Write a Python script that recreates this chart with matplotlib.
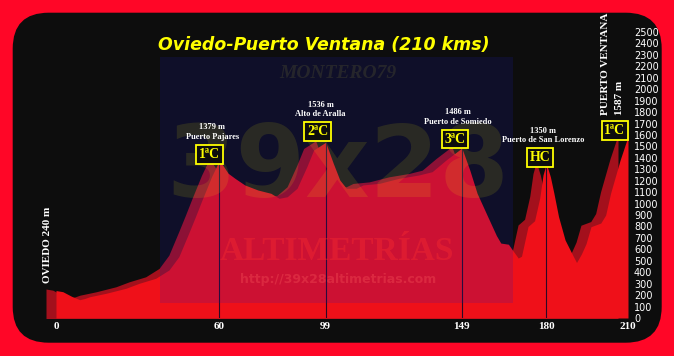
import matplotlib
matplotlib.use("Agg")
import matplotlib.pyplot as plt
from matplotlib.patches import FancyBboxPatch, Rectangle
from matplotlib.transforms import Affine2D, ScaledTranslation

# ---------------- data ----------------
km = [0, 2.5, 5.7, 8.7, 10.5, 12.4, 18.4, 25.7, 30.5, 36.6, 41.5, 45.1, 48.7, 51.2, 53.6, 57.1, 60,
      63.2, 65.7, 69.3, 74.1, 78.9, 81.9, 84.9, 88.5, 92.1, 94.6, 99,
      101.8, 104.2, 106.6, 110.2, 112.7, 118.7, 125.9, 133.2, 138.1, 143.2, 149,
      151.9, 154.6, 158.5, 161.7, 163.3, 166.1, 167.7, 169.7, 170.9, 173.3, 175.7, 177.6, 178.8, 180,
      181.5, 182.8, 184.5, 186.9, 189.9, 191.1, 192.9, 194.6, 196.4, 200, 201.8, 203.6, 207.1, 210]
elev = [240, 230, 190, 160, 170, 186, 216, 260, 303, 347, 420, 536, 740, 886, 1031, 1235, 1379,
        1265, 1221, 1163, 1119, 1090, 1046, 1060, 1134, 1323, 1469, 1536,
        1352, 1206, 1134, 1134, 1163, 1177, 1221, 1250, 1279, 1381, 1486,
        1294, 1090, 886, 720, 655, 645, 590, 524, 540, 800, 850, 1050, 1250, 1350,
        1235, 1090, 886, 682, 540, 485, 560, 650, 798, 830, 900, 1090, 1381, 1587]

peak_km = [60, 99, 149, 180, 210]
peak_elev = [1379, 1536, 1486, 1350, 1587]
peak_names = ["Puerto Pajares", "Alto de Aralla", "Puerto de Somiedo", "Puerto de San Lorenzo", "PUERTO VENTANA"]
peak_cat = ["1ªC", "2ªC", "3ªC", "HC", "1ªC"]
start_name = "OVIEDO"
start_elev = 240

x_ticks = [0, 60, 99, 149, 180, 210]
y_ticks = list(range(0, 2600, 100))
title = "Oviedo-Puerto Ventana (210 kms)"

# ---------------- layout ----------------
W, H, DPI = 674, 356, 100
fig = plt.figure(figsize=(W / DPI, H / DPI), dpi=DPI, facecolor="#ff0627")
# image-pixel transform (y downwards)
imgT = Affine2D().scale(1, -1).translate(0, H).scale(1 / DPI) + fig.dpi_scale_trans

bg = FancyBboxPatch((12.7, 12.7), 649, 330, boxstyle="round,pad=0,rounding_size=36",
                    transform=imgT, facecolor="#0d0d0d", edgecolor="none", zorder=-5)
fig.add_artist(bg)

ax = fig.add_axes([46 / W, 38 / H, 582 / W, 286 / H])
ax.set_facecolor("none")
ax.set_xlim(-3.67, 210)
ax.set_ylim(0, 2500)
for s in ax.spines.values():
    s.set_visible(False)

# profile: back face (shadow) + front face
shadowT = ax.transData + ScaledTranslation(-10 / DPI, 1.5 / DPI, fig.dpi_scale_trans)
ax.fill_between(km, elev, -300, color="#a3101c", lw=0, transform=shadowT, zorder=1)
ax.fill_between(km, elev, 0, color="#ef1019", lw=0, zorder=2)
ax.vlines(peak_km[:4], 0, peak_elev[:4], colors="#2b0a26", lw=0.8, zorder=3)

# watermark (over the profile)
wm_z = 4
ax.add_patch(Rectangle((160, 57), 353, 246, transform=imgT, facecolor=(0.1, 0.1, 0.75),
                       alpha=0.16, edgecolor="none", zorder=wm_z, clip_on=False))
ax.text(338, 73, "MONTERO79", transform=imgT, ha="center", va="center", fontsize=14,
        family="Liberation Serif", weight="bold", style="italic", color="#c0c040", alpha=0.13, zorder=wm_z)
ax.text(338, 170, "39x28", transform=imgT, ha="center", va="center", fontsize=72,
        family="DejaVu Sans", weight="bold", color="#ffff00", alpha=0.11, zorder=wm_z)
ax.text(337, 251, "ALTIMETRÍAS", transform=imgT, ha="center", va="center", fontsize=24,
        family="Liberation Serif", weight="bold", color="#ff3030", alpha=0.35, zorder=wm_z)
ax.text(338, 280, "http://39x28altimetrias.com", transform=imgT, ha="center", va="center", fontsize=9,
        family="DejaVu Sans", weight="bold", color="#ff6060", alpha=0.3, zorder=wm_z)

# peak labels
box_off = [(-10, 6), (-8, 11), (-7, 9), (-6, 6), (-13, 6)]
for i, (k, e, nm, cat) in enumerate(zip(peak_km, peak_elev, peak_names, peak_cat)):
    dx, dy = box_off[i]
    ax.annotate(cat, xy=(k, e), xytext=(dx, dy), textcoords="offset pixels", ha="center", va="center",
                fontsize=10, family="Liberation Serif", weight="bold", color="#ffff00", zorder=7,
                bbox=dict(boxstyle="square,pad=0.2", facecolor="#0d0d0d", edgecolor="#ffff00", lw=1.3))
    if i < 4:
        ax.annotate(f"{e} m\n{nm}", xy=(k, e), xytext=(dx + 3, dy + 22), textcoords="offset pixels",
                    ha="center", va="center", fontsize=6, family="Liberation Serif", weight="bold",
                    color="white", linespacing=1.25, zorder=7)
    else:
        ax.annotate(nm, xy=(k, e), xytext=(-23, 21), textcoords="offset pixels", ha="center", va="bottom",
                    rotation=90, fontsize=8, family="Liberation Serif", weight="bold", color="white",
                    zorder=7, annotation_clip=False)
        ax.annotate(f"{e} m", xy=(k, e), xytext=(-8, 21), textcoords="offset pixels", ha="center",
                    va="bottom", rotation=90, fontsize=8, family="Liberation Serif", weight="bold",
                    color="white", zorder=7, annotation_clip=False)

ax.annotate(f"{start_name} {start_elev} m", xy=(km[0], elev[0]), xytext=(-8, 8), textcoords="offset pixels",
            ha="center", va="bottom", rotation=90, fontsize=8, family="Liberation Serif", weight="bold",
            color="white", zorder=7, annotation_clip=False)

# axes ticks
ax.yaxis.tick_right()
ax.set_yticks(y_ticks)
ax.set_yticklabels([str(v) for v in y_ticks])
ax.tick_params(axis="y", length=0, pad=4.3, labelsize=7, labelcolor="white")
for t in ax.get_yticklabels():
    t.set_family("DejaVu Sans")
ax.set_xticks(x_ticks)
ax.set_xticklabels([str(v) for v in x_ticks])
ax.tick_params(axis="x", length=0, pad=3, labelsize=8, labelcolor="white")
for t in ax.get_xticklabels():
    t.set_family("Liberation Serif")
    t.set_weight("bold")

fig.text(324 / W, 1 - 45 / H, title, ha="center", va="center", color="#ffff00", fontsize=12.5,
         family="DejaVu Sans", weight="bold", style="italic")

fig.savefig("out.png", dpi=DPI, facecolor=fig.get_facecolor())
